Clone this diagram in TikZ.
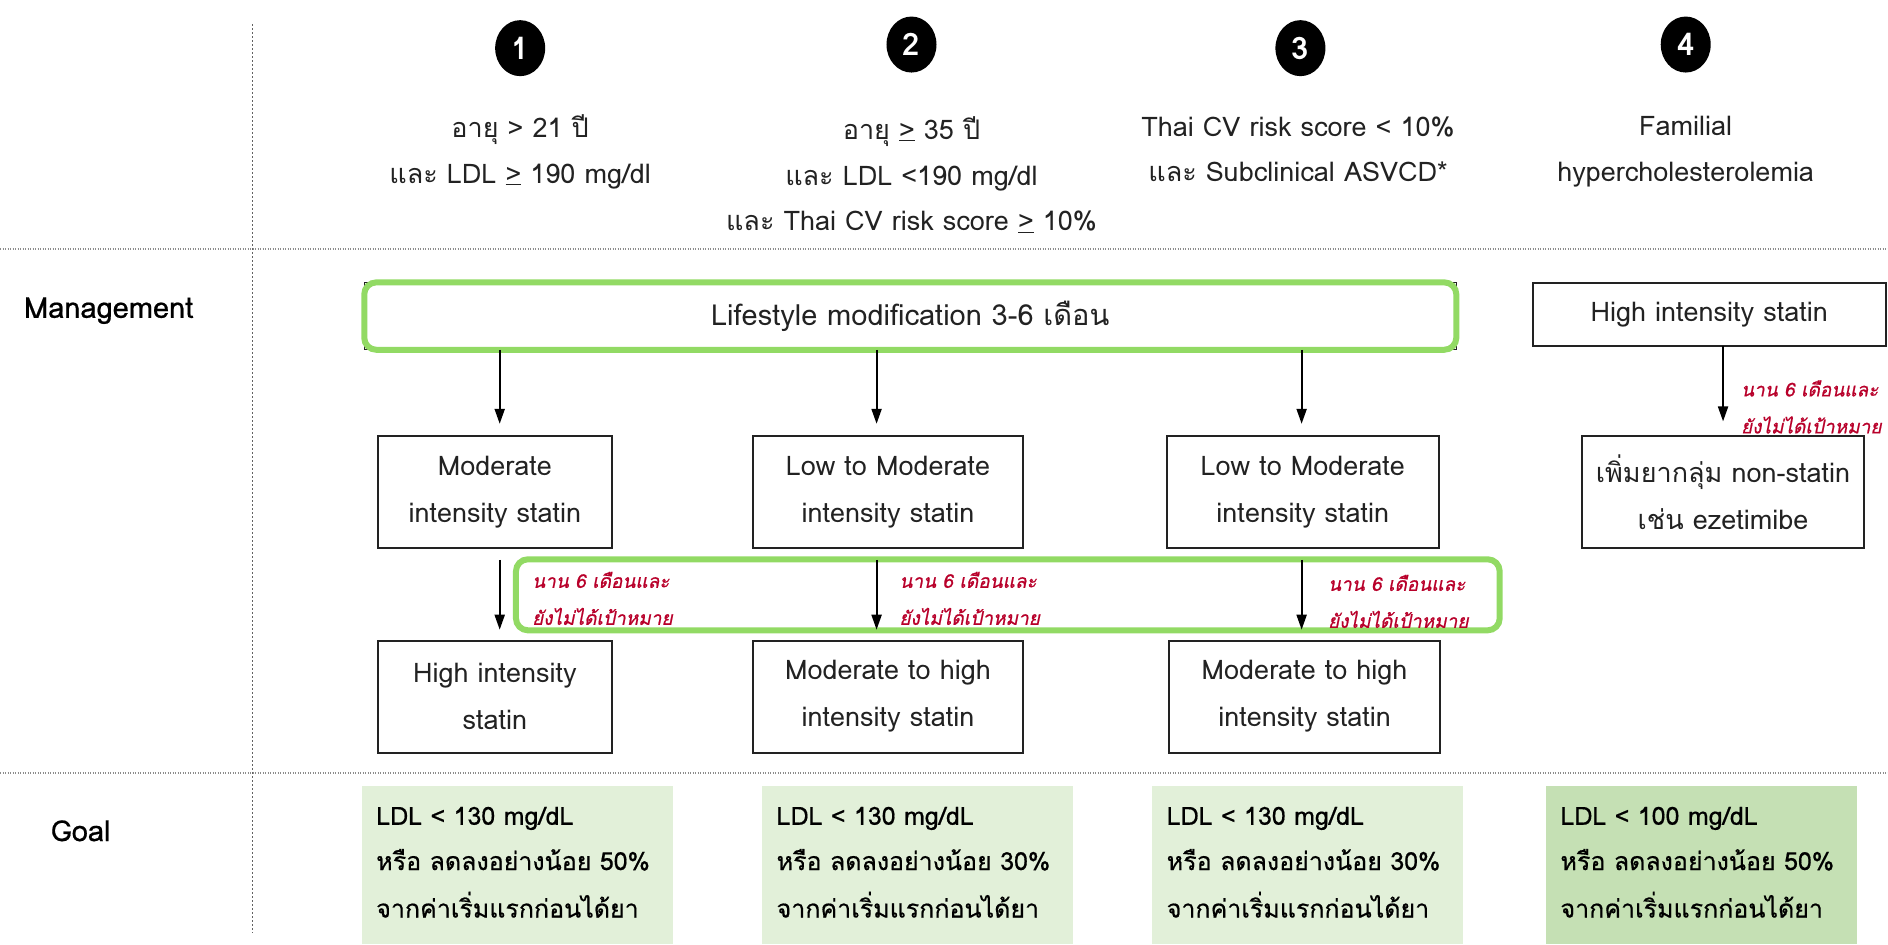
\documentclass[tikz,border=0pt]{standalone}
\usepackage{fontspec}
\setmainfont[Script=Thai]{Loma}
\newfontfamily\redfont[Script=Thai,FakeSlant=0.2,FakeBold=0.8]{Loma}
\newfontfamily\medfont[Script=Thai,FakeBold=0.6]{Loma}
\usetikzlibrary{arrows.meta,calc,shapes.geometric}
\definecolor{lgreen}{HTML}{92DA64}
\definecolor{goalA}{HTML}{E2F0D9}
\definecolor{goalB}{HTML}{C5E0B4}
\definecolor{redt}{HTML}{B8002A}
\definecolor{dotg}{HTML}{8C8C8C}
\definecolor{ink}{HTML}{222222}
\newcommand\myfs[2]{\fontsize{#1}{#2}\selectfont}
\begin{document}
\begin{tikzpicture}[x=1.204pt,y=1.204pt,
  every node/.style={inner sep=0pt,outer sep=0pt},
  hdr/.style={font=\myfs{27}{45.75}, align=center, text=ink},
  box/.style={draw=ink, line width=2pt, fill=white, align=center, font=\myfs{27}{47}, text=ink},
  rlab/.style={font=\redfont\myfs{19}{37}, text=redt, align=left, anchor=west},
  goalbox/.style={minimum width=311pt, minimum height=158pt, anchor=north west},
  gtxt/.style={font=\medfont\myfs{25}{45}, anchor=base west, text=black},
  num/.style={ellipse, fill=black, minimum width=50pt, minimum height=56pt, text=white, font=\bfseries\myfs{31}{31}},
  lbl/.style={font=\medfont\myfs{29}{34}, text=black},
  arr/.style={-{Triangle[length=15pt,width=10pt]}, line width=2pt, draw=black},
  dots/.style={dotg, line width=1.6pt, dash pattern=on 1pt off 1.5pt},
  vdots/.style={dotg!70!black, line width=1pt, dash pattern=on 2pt off 2pt},
  greenr/.style={draw=lgreen, line width=6pt, rounded corners=12pt}
]
\useasboundingbox (0,0) rectangle (1568,784);

% grid lines
\draw[dots] (0,577) -- (1568,577);
\draw[dots] (0,142) -- (1568,142);
\draw[vdots] (210,764) -- (210,9);

% header
\node[num] (c1) at (432,744) {1};
\node[num] (c2) at (757,747) {2};
\node[num] (c3) at (1080,744) {3};
\node[num] (c4) at (1400,747) {4};
\node[hdr] (h1) at (432,658) {อายุ > 21 ปี\\และ LDL \underline{>} 190 mg/dl};
\node[hdr] (h2) at (757,639) {อายุ \underline{>} 35 ปี\\และ LDL <190 mg/dl\\และ Thai CV risk score \underline{>} 10\%};
\node[hdr] (h3) at (1078,660) {Thai CV risk score < 10\%\\และ Subclinical ASVCD*};
\node[hdr] (h4) at (1400,658) {Familial\\hypercholesterolemia};

% row labels
\node[lbl, anchor=west] (mg) at (20,526) {Management};
\node[lbl] (gl) at (67,94) {Goal};

% management row
\node[draw=ink, line width=1pt, fill=white, minimum width=1092pt, minimum height=67.4pt, font=\myfs{29}{30}, text=ink] (life) at (756,521.5) {Lifestyle modification 3-6 เดือน};
\draw[greenr] (life.south west) rectangle (life.north east);
\node[box, minimum width=352.8pt, minimum height=62.6pt] (his) at (1419.5,523) {High intensity statin};

\node[box, minimum width=233.6pt, minimum height=112pt] (A) at (411,375.5) {Moderate\\intensity statin};
\node[box, minimum width=270.9pt, minimum height=112pt] (B) at (737.5,375.5) {Low to Moderate\\intensity statin};
\node[box, minimum width=272.1pt, minimum height=112pt] (C) at (1082,375.5) {Low to Moderate\\intensity statin};
\node[box, minimum width=281.7pt, minimum height=112pt] (D) at (1431,375.5) {เพิ่มยากลุ่ม non-statin\\เช่น ezetimibe};

\node[box, minimum width=233.6pt, minimum height=112pt] (E) at (411,205.5) {High intensity\\statin};
\node[box, minimum width=270.9pt, minimum height=112pt] (F) at (737.5,205.5) {Moderate to high\\intensity statin};
\node[box, minimum width=271pt, minimum height=112pt] (G) at (1083.5,205.5) {Moderate to high\\intensity statin};

% green highlight of second step
\draw[greenr] (428.5,260.5) rectangle (1245.5,319.5);

% arrows
\draw[arr] ($(A.north |- life.south)+(4,0)$) -- ($(A.north)+(4,10)$);
\draw[arr] ($(B.north |- life.south)+(-9.5,0)$) -- ($(B.north)+(-9.5,10)$);
\draw[arr] ($(C.north |- life.south)+(-1,0)$) -- ($(C.north)+(-1,10)$);
\draw[arr] (his.south -| D.north) -- ($(D.north)+(0,12)$);
\draw[arr] ($(A.south)+(4,-10)$) -- ($(E.north)+(4,9)$);
\draw[arr] ($(B.south)+(-9.5,-10)$) -- ($(F.north)+(-9.5,9)$);
\draw[arr] ($(C.south)+(-1,-10)$) -- ($(G.north)+(-2.5,9)$);

% red labels
\node[rlab] (r1) at (442,287) {นาน 6 เดือนและ\\ยังไม่ได้เป้าหมาย};
\node[rlab] (r2) at (747,287) {นาน 6 เดือนและ\\ยังไม่ได้เป้าหมาย};
\node[rlab] (r3) at (1103,284.5) {นาน 6 เดือนและ\\ยังไม่ได้เป้าหมาย};
\node[rlab] (r4) at (1446,446) {นาน 6 เดือนและ\\ยังไม่ได้เป้าหมาย};

% goals
\node[goalbox, fill=goalA] (g1) at (300.5,131) {};
\node[goalbox, fill=goalA] (g2) at (633,131) {};
\node[goalbox, fill=goalA] (g3) at (957,131) {};
\node[goalbox, fill=goalB] (g4) at (1284,131) {};
\node[gtxt] (g1a) at ($(g1.north west)+(12,-32)$) {LDL < 130 mg/dL};
\node[gtxt] (g1b) at ($(g1.north west)+(12,-69.6)$) {หรือ ลดลงอย่างน้อย 50\%};
\node[gtxt] (g1c) at ($(g1.north west)+(12,-109)$) {จากค่าเริ่มแรกก่อนได้ยา};
\node[gtxt] (g2a) at ($(g2.north west)+(12,-32)$) {LDL < 130 mg/dL};
\node[gtxt] (g2b) at ($(g2.north west)+(12,-69.6)$) {หรือ ลดลงอย่างน้อย 30\%};
\node[gtxt] (g2c) at ($(g2.north west)+(12,-109)$) {จากค่าเริ่มแรกก่อนได้ยา};
\node[gtxt] (g3a) at ($(g3.north west)+(12,-32)$) {LDL < 130 mg/dL};
\node[gtxt] (g3b) at ($(g3.north west)+(12,-69.6)$) {หรือ ลดลงอย่างน้อย 30\%};
\node[gtxt] (g3c) at ($(g3.north west)+(12,-109)$) {จากค่าเริ่มแรกก่อนได้ยา};
\node[gtxt] (g4a) at ($(g4.north west)+(12,-32)$) {LDL < 100 mg/dL};
\node[gtxt] (g4b) at ($(g4.north west)+(12,-69.6)$) {หรือ ลดลงอย่างน้อย 50\%};
\node[gtxt] (g4c) at ($(g4.north west)+(12,-109)$) {จากค่าเริ่มแรกก่อนได้ยา};
\end{tikzpicture}
\end{document}
